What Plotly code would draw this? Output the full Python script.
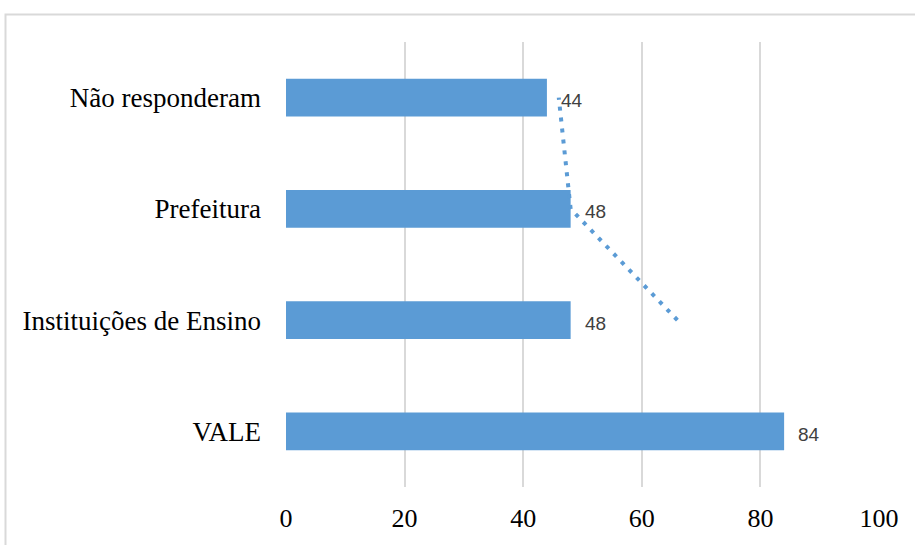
import pandas as pd
import plotly.graph_objects as go

# Categories listed bottom-to-top as they appear on the vertical axis
categorias = ["VALE", "Instituições de Ensino", "Prefeitura", "Não responderam"]
valores = [84, 48, 48, 44]
ticks_x = [0, 20, 40, 60, 80, 100]

# Two-period moving average trendline (first point undefined)
media_movel = pd.Series(valores).rolling(2).mean().tolist()

AZUL = "#5B9BD5"
GRADE = "#D9D9D9"

fig = go.Figure()

fig.add_trace(go.Bar(
    x=valores,
    y=categorias,
    orientation="h",
    marker=dict(color=AZUL, line=dict(width=0)),
    showlegend=False,
    hoverinfo="x+y",
))

fig.add_trace(go.Scatter(
    x=media_movel[1:],
    y=categorias[1:],
    mode="lines",
    line=dict(color=AZUL, width=4, dash="4px,7px"),
    showlegend=False,
    hoverinfo="skip",
))

# Value labels to the right of each bar
for cat, v in zip(categorias, valores):
    fig.add_annotation(
        x=v, y=cat, text=str(v), showarrow=False,
        xanchor="left", xshift=12, yshift=-3,
        font=dict(family="Liberation Sans, Arial, sans-serif", size=19, color="#404040"),
    )

# Light outer frame around the chart area
fig.add_shape(
    type="rect", xref="paper", yref="paper",
    x0=-0.473, x1=1.2, y0=-0.3, y1=1.062,
    line=dict(color=GRADE, width=2), fillcolor="rgba(0,0,0,0)",
    layer="below",
)

fig.update_layout(
    width=915, height=545,
    margin=dict(l=286, r=36, t=42, b=56),
    paper_bgcolor="white",
    plot_bgcolor="white",
    bargap=0.66,
    font=dict(family="Liberation Serif, Times New Roman, serif", size=27, color="black"),
    xaxis=dict(
        range=[0, 100],
        tickvals=ticks_x,
        ticktext=[str(t) for t in ticks_x],
        showgrid=True, gridcolor=GRADE, gridwidth=1.5,
        zeroline=False, showline=False,
        ticks="", ticklabelstandoff=13,
        tickfont=dict(family="Liberation Serif, Times New Roman, serif", size=26, color="black"),
        fixedrange=True,
    ),
    yaxis=dict(
        categoryorder="array", categoryarray=categorias,
        showgrid=False, zeroline=False, showline=False,
        ticks="", ticklabelstandoff=24,
        tickfont=dict(family="Liberation Serif, Times New Roman, serif", size=27, color="black"),
        fixedrange=True,
    ),
)

fig.write_html("out.html")
